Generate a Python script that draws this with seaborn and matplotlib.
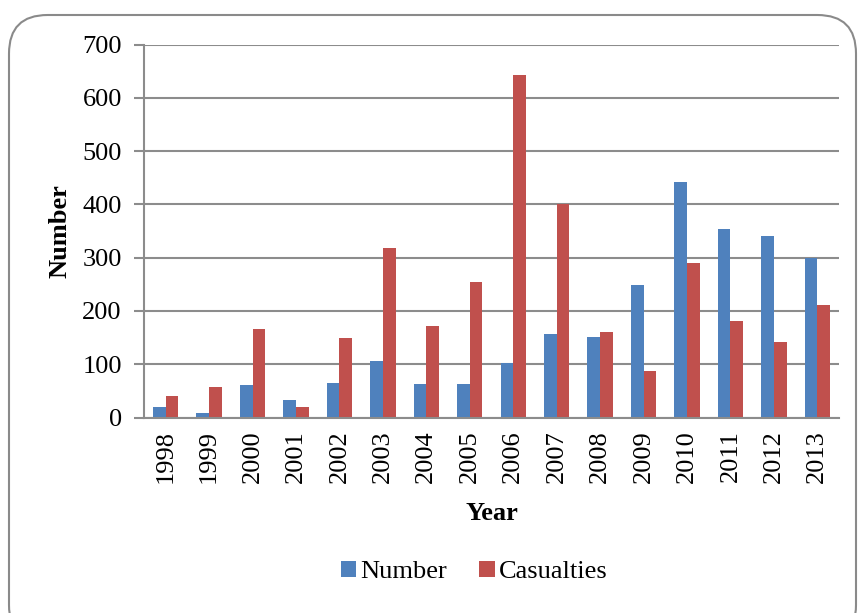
import matplotlib
matplotlib.use("Agg")
import matplotlib.pyplot as plt
from matplotlib.patches import FancyBboxPatch
import seaborn as sns
import pandas as pd

years = ["1998", "1999", "2000", "2001", "2002", "2003", "2004", "2005",
         "2006", "2007", "2008", "2009", "2010", "2011", "2012", "2013"]
number = [19, 8, 61, 32, 64, 106, 62, 62, 103, 156, 151, 249, 442, 354, 341, 300]
casualties = [40, 57, 166, 20, 150, 318, 171, 255, 644, 401, 161, 88, 290, 181, 141, 211]
series_names = ["Number", "Casualties"]
y_ticks = [0, 100, 200, 300, 400, 500, 600, 700]

df = pd.DataFrame({
    "Year": years * 2,
    "Value": number + casualties,
    "Series": [series_names[0]] * len(years) + [series_names[1]] * len(years),
})

sns.set_theme(style="white")
plt.rcParams["font.family"] = ["Liberation Serif", "DejaVu Serif"]
plt.rcParams["text.color"] = "black"
plt.rcParams["axes.labelcolor"] = "black"

grey = "#8c8c8c"
fs = 19

fig = plt.figure(figsize=(8.58, 6.13), dpi=100)
ax = fig.add_axes([144 / 858, 1 - 417.5 / 613, (839 - 144) / 858, (417.5 - 44.7) / 613])

sns.barplot(data=df, x="Year", y="Value", hue="Series", order=years,
            hue_order=series_names, palette=["#4F81BD", "#C0504D"],
            width=0.585, gap=0, ax=ax, legend=True, saturation=1,
            edgecolor="none")

ax.set_xlim(-0.5, len(years) - 0.5)
ax.set_ylim(0, 700)
ax.set_yticks(y_ticks)
ax.set_yticklabels([str(v) for v in y_ticks], fontsize=fs)
ax.set_xticks(range(len(years)))
ax.set_xticklabels(years, rotation=90, fontsize=fs)
ax.set_xticks([i - 0.5 for i in range(len(years) + 1)], minor=True)
ax.tick_params(axis="x", which="major", length=0, pad=9, colors="black")
ax.tick_params(axis="x", which="minor", length=7, width=1.5, color=grey, direction="out")
ax.tick_params(axis="y", which="major", length=7, width=1.5, color=grey, direction="out",
               pad=9, labelcolor="black", left=True)

ax.grid(axis="y", color=grey, linewidth=1.5)
ax.set_axisbelow(True)
for side in ["top", "right"]:
    ax.spines[side].set_visible(False)
for side in ["left", "bottom"]:
    ax.spines[side].set_color(grey)
    ax.spines[side].set_linewidth(1.5)
ax.spines["bottom"].set_zorder(5)

ax.set_xlabel("Year", fontsize=fs, fontweight="bold", labelpad=14, color="black")
ax.set_ylabel("Number", fontsize=fs, fontweight="bold", labelpad=8, color="black")

handles, labels = ax.get_legend_handles_labels()
ax.get_legend().remove()
fig.legend(handles, labels, loc="center", bbox_to_anchor=(474 / 858, 1 - 572 / 613),
           ncol=2, frameon=False, fontsize=fs, handlelength=0.6, handleheight=0.6,
           handletextpad=0.15, columnspacing=1.2, labelcolor="black")

frame = FancyBboxPatch((9 / 858, 0.0 - 0.05), (856 - 9) / 858, (613 - 15) / 613 + 0.05,
                       boxstyle="round,pad=0,rounding_size=0.045",
                       transform=fig.transFigure, fill=False,
                       edgecolor="#8a8a8a", linewidth=1.5, mutation_aspect=858 / 613)
fig.patches.append(frame)

fig.savefig("out.png", dpi=100)
